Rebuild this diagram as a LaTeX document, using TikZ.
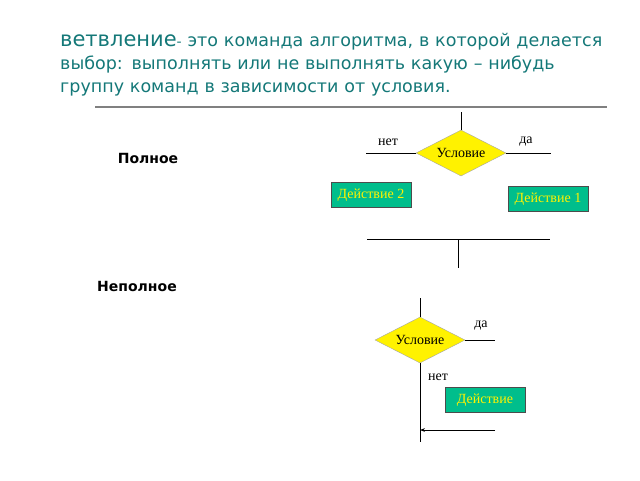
\documentclass[tikz,border=0pt]{standalone}
\usepackage{fontspec}
\setmainfont{DejaVu Sans}
\newfontfamily\serf{Liberation Serif}
\usetikzlibrary{shapes.geometric,arrows.meta}
\definecolor{ttl}{RGB}{20,120,120}
\definecolor{boxc}{RGB}{0,190,140}
\begin{document}
\begin{tikzpicture}[x=1pt,y=-1pt,
  ln/.style={draw=black,line width=0.8pt},
  dia/.style={diamond,draw=gray!70,fill=yellow,aspect=2,minimum width=90pt,minimum height=46pt,inner sep=0pt,font=\serf\fontsize{14}{14}\selectfont},
  act/.style={rectangle,draw=black!70,line width=0.8pt,fill=boxc,text=yellow,minimum width=80pt,minimum height=25pt,inner sep=0pt,font=\serf\fontsize{14}{14}\selectfont},
  lbl/.style={font=\serf\fontsize{14}{14}\selectfont},
  hd/.style={font=\bfseries\fontsize{14}{14}\selectfont}]
\useasboundingbox (0,0) rectangle (640,480);
\node[anchor=north west,text width=545pt,align=left,text=ttl,font=\fontsize{17.5}{23}\selectfont,inner sep=0pt] (title) at (60,33)
 {{\fontsize{21}{23}\selectfont ветвление}{\fontsize{14}{23}\selectfont -} это команда алгоритма, в которой делается выбор: выполнять или не выполнять какую – нибудь группу команд в зависимости от условия.};
\coordinate (r1) at (95,107); \coordinate (r2) at (607,107);
\draw[gray,line width=1.8pt] (r1) -- (r2);
\node[hd] (full) at (148,158) {Полное};
\node[hd] (part) at (137,286) {Неполное};
% full
\node[dia] (c1) at (461,153) {Условие};
\coordinate (t1) at (461,112);
\coordinate (l1) at (366,153); \coordinate (rr1) at (551,153);
\draw[ln] (t1) -- (c1.north);
\draw[ln] (c1.west) -- (l1);
\draw[ln] (c1.east) -- (rr1);
\node[lbl] (net1) at (388,142) {нет};
\node[lbl] (da1) at (526,142) {да};
\node[act] (a2) at (371,195) {Действие 2};
\node[act] (a1) at (548,199) {Действие 1};
\coordinate (b1) at (367,239); \coordinate (b2) at (550,239);
\coordinate (m1) at (458,239); \coordinate (m2) at (458,268);
\draw[ln] (b1) -- (b2);
\draw[ln] (m1) -- (m2);
% partial
\node[dia] (c2) at (420,340) {Условие};
\coordinate (t2) at (420,298); \coordinate (e2) at (420,442);
\coordinate (rr2) at (495,340);
\draw[ln] (t2) -- (c2.north);
\draw[ln] (c2.south) -- (e2);
\draw[ln] (c2.east) -- (rr2);
\node[lbl] (da2) at (481,326) {да};
\node[lbl] (net2) at (438,377) {нет};
\node[act] (a3) at (485,400) {Действие};
\coordinate (q1) at (495,430); \coordinate (q2) at (420,430);
\draw[ln,-{Stealth[length=5pt]}] (q1) -- (q2);
\end{tikzpicture}
\end{document}
